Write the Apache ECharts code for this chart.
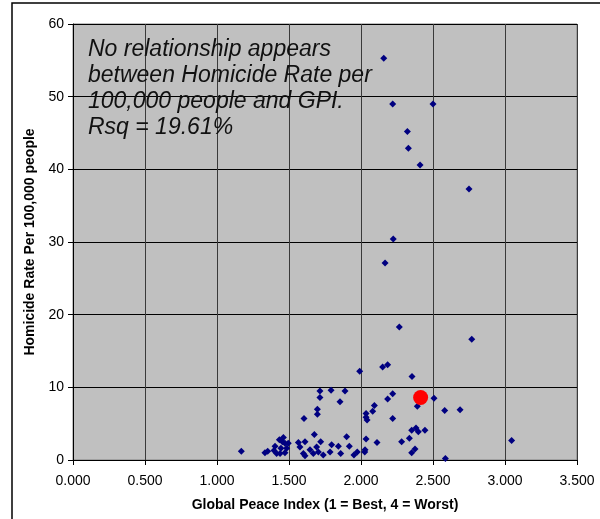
<!DOCTYPE html>
<html>
<head>
<meta charset="utf-8">
<script src="https://cdn.jsdelivr.net/npm/echarts@6/dist/echarts.min.js"></script>
<style>
html,body{margin:0;padding:0;background:#fff;}
#chart{width:600px;height:519px;}
</style>
</head>
<body>
<div id="chart"></div>
<script>
// Global Peace Index (x) vs Homicide rate per 100,000 (y)
const gpiValues = [
  2.158,2.220,2.500,2.322,2.329,2.410,2.750,2.224,2.167,2.266,2.769,1.991,2.150,2.185,2.354,
  1.715,1.792,1.889,1.715,1.854,2.220,2.185,2.093,2.081,2.035,2.035,2.042,1.697,1.697,1.604,2.220,2.507,2.391,2.581,2.688,
  1.676,1.900,2.035,2.111,2.352,2.382,2.398,2.444,2.336,2.282,3.046,2.352,2.375,2.586,1.169,
  1.333,1.352,1.403,1.396,1.414,1.438,1.444,1.454,1.461,1.433,1.472,1.495,1.484,1.472,
  1.565,1.576,1.611,1.600,1.611,1.720,1.692,1.646,1.669,1.704,1.738,1.796,1.785,1.843,1.859,1.919,1.974,1.951,2.028,2.026
];
const homicideValues = [
  55.3,49.0,49.0,45.2,42.9,40.6,37.3,30.4,27.1,18.3,16.6,12.2,12.8,13.1,11.5,
  9.5,9.6,9.5,8.6,8.0,9.1,8.4,7.5,6.7,6.4,5.9,5.5,7.0,6.3,5.7,5.7,8.5,7.4,6.8,6.9,
  3.5,3.2,2.9,2.4,4.1,4.4,3.9,4.1,3.0,2.5,2.7,1.0,1.5,0.2,1.2,
  1.0,1.2,1.9,1.3,0.9,0.9,1.6,2.5,3.1,2.8,2.3,2.3,1.6,1.0,
  2.4,1.8,2.5,0.9,0.6,2.5,1.8,1.4,0.9,1.1,0.7,2.1,1.1,1.9,0.9,1.9,1.1,0.7,1.4,1.1
];
const highlightGpi = [2.414];
const highlightHomicide = [8.6];
const annotationLines = [
  'No relationship appears',
  'between Homicide Rate per',
  '100,000 people and GPI.',
  'Rsq = 19.61%'
];
const xTitle = 'Global Peace Index (1 = Best, 4 = Worst)';
const yTitle = 'Homicide Rate Per 100,000 people';

const mainData = gpiValues.map((x, i) => [x, homicideValues[i]]);
const redData = highlightGpi.map((x, i) => [x, highlightHomicide[i]]);

const chart = echarts.init(document.getElementById('chart'), null, {renderer: 'canvas'});
const font = 'Liberation Sans, Arial, sans-serif';
chart.setOption({
  animation: false,
  backgroundColor: '#fff',
  grid: {left: 73, top: 24, right: 23, bottom: 59, containLabel: false, outerBoundsMode: 'none',
         show: true, backgroundColor: '#C0C0C0', borderColor: '#808080', borderWidth: 1},
  xAxis: {
    type: 'value', min: 0, max: 3.5, interval: 0.5,
    name: xTitle, nameLocation: 'middle', nameGap: 38,
    nameTextStyle: {fontFamily: font, fontSize: 14, fontWeight: 'bold', color: '#000'},
    axisLine: {show: true, onZero: false, lineStyle: {color: '#000', width: 1}},
    axisTick: {show: true, length: 5, lineStyle: {color: '#000'}},
    axisLabel: {fontFamily: font, fontSize: 14, color: '#000', margin: 14, formatter: v => v.toFixed(3)},
    splitLine: {show: true, lineStyle: {color: '#3a3a3a', width: 1}}
  },
  yAxis: {
    type: 'value', min: 0, max: 60, interval: 10,
    name: yTitle, nameLocation: 'middle', nameGap: 31,
    nameTextStyle: {fontFamily: font, fontSize: 14, fontWeight: 'bold', color: '#000'},
    axisLine: {show: true, onZero: false, lineStyle: {color: '#000', width: 1}},
    axisTick: {show: true, length: 5, lineStyle: {color: '#000'}},
    axisLabel: {fontFamily: font, fontSize: 14, color: '#000', margin: 9},
    splitLine: {show: true, lineStyle: {color: '#000', width: 1}}
  },
  series: [
    {type: 'scatter', data: mainData, symbol: 'diamond', symbolSize: 7,
     itemStyle: {color: '#000080', opacity: 1}},
    {type: 'scatter', data: redData, symbol: 'circle', symbolSize: 15,
     itemStyle: {color: '#FF0000', opacity: 1}, z: 3}
  ],
  graphic: [
    {type: 'rect', shape: {x: 12, y: 3, width: 620, height: 540},
     style: {fill: 'none', stroke: '#000', lineWidth: 1.5}, silent: true, z: 100},
    {type: 'text', x: 88, y: 37, z: 100,
     style: {text: annotationLines.join('\n'), font: 'italic 23px Liberation Sans, Arial, sans-serif',
             fill: '#111', lineHeight: 26}}
  ]
});
</script>
</body>
</html>
